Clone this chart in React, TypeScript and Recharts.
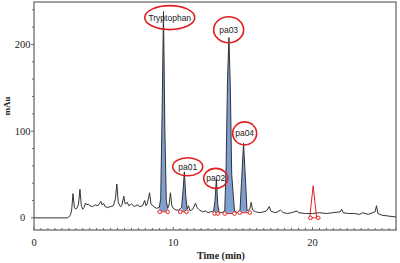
import React from 'react';
import {
  ComposedChart,
  Line,
  Area,
  XAxis,
  YAxis,
  Scatter,
  ReferenceLine,
  ReferenceDot,
  ReferenceArea,
} from 'recharts';

// chromatogram trace: [time (min), mAu]
const trace: [number, number][] = [
  [0, 0], [1, 0], [2, 0], [2.4, 0], [2.5, 1], [2.6, 3], [2.7, 8], [2.8, 28], [2.9, 12],
  [3.0, 10], [3.1, 12], [3.2, 16], [3.3, 33], [3.4, 14], [3.5, 10], [3.6, 12], [3.7, 17],
  [3.8, 15], [3.9, 16], [4.0, 14], [4.2, 13], [4.4, 15], [4.6, 14], [4.8, 19], [4.9, 15],
  [5.0, 17], [5.1, 13], [5.3, 12], [5.5, 13], [5.7, 14], [5.85, 22], [5.95, 39], [6.05, 18],
  [6.2, 13], [6.3, 14], [6.45, 25], [6.55, 16], [6.7, 18], [6.8, 14], [7.0, 16], [7.2, 13],
  [7.4, 15], [7.6, 13], [7.8, 14], [7.95, 20], [8.05, 14], [8.15, 17], [8.3, 29], [8.4, 16],
  [8.6, 13], [8.8, 11], [9.0, 12], [9.1, 22], [9.2, 120], [9.3, 238], [9.4, 100], [9.5, 20],
  [9.6, 11], [9.7, 15], [9.8, 29], [9.9, 14], [10.0, 11], [10.2, 9], [10.4, 9], [10.6, 12],
  [10.7, 30], [10.8, 53], [10.9, 25], [11.0, 10], [11.1, 14], [11.2, 8], [11.4, 10],
  [11.6, 17], [11.7, 12], [11.9, 9], [12.1, 7], [12.3, 8], [12.5, 6], [12.7, 7], [12.9, 8],
  [13.0, 20], [13.1, 45], [13.2, 15], [13.3, 6], [13.5, 6], [13.7, 8], [13.8, 60],
  [13.9, 160], [14.0, 208], [14.1, 150], [14.2, 50], [14.4, 8], [14.6, 6], [14.8, 9],
  [14.9, 40], [15.05, 86], [15.2, 40], [15.3, 8], [15.5, 10], [15.6, 18], [15.7, 9],
  [15.9, 7], [16.2, 6], [16.5, 7], [16.7, 8], [16.9, 13], [17.0, 8], [17.3, 6], [17.5, 7],
  [17.7, 9], [17.9, 6], [18.2, 5], [18.5, 6], [18.9, 8], [19.0, 6], [19.5, 5], [20.0, 5],
  [20.5, 6], [21.0, 5], [21.5, 6], [22.0, 7], [22.1, 10], [22.2, 6], [22.6, 5], [23.0, 5],
  [23.4, 4], [23.6, 6], [24.0, 4], [24.5, 7], [24.6, 14], [24.7, 5], [25.0, 3], [25.5, 2],
  [26, 1],
];

// integrated (blue) peaks
const peakNames = ['Tryptophan', 'pa01', 'pa02', 'pa03', 'pa04'];
const peakStart = [9.0, 10.6, 12.9, 13.7, 14.8];
const peakEnd = [9.6, 11.0, 13.3, 14.4, 15.3];
const peakBase = [8, 8, 6, 6, 7];
const markerStart = [9.03, 10.5, 12.97, 13.7, 14.77];
const markerEnd = [9.6, 10.95, 13.2, 14.4, 15.5];

// annotation ellipse centres (time, mAu)
const labelTime = [9.75, 11.04, 13.05, 13.98, 15.13];
const labelValue = [231, 59, 45.6, 217, 97.5];

// red reference peak
const redPeak: [number, number][] = [[19.8, 0], [20.05, 37], [20.3, 0]];
const redMarkers = [19.85, 20.42];

const yTicks = [0, 20, 40, 60, 80, 100, 120, 140, 160, 180, 200, 220, 240];
const yLabels = [0, 100, 200];
const xTicks = Array.from({ length: 53 }, (_, i) => i * 0.5);
const xLabels = [0, 10, 20];

const ellipseSize: Record<string, [number, number]> = {
  Tryptophan: [25, 12],
  pa01: [15, 9],
  pa02: [12, 10],
  pa03: [15, 13],
  pa04: [12, 11.5],
};

type Row = { t: number; v?: number; blue?: [number, number]; red?: number };

const rows: Row[] = [];
trace.forEach(([t, v]) => {
  const row: Row = { t, v };
  peakStart.forEach((s, i) => {
    if (t >= s && t <= peakEnd[i]) row.blue = [peakBase[i], v];
  });
  rows.push(row);
});
redPeak.forEach(([t, r]) => rows.push({ t, red: r }));
rows.sort((a, b) => a.t - b.t);

const markerData = [
  ...markerStart.map((t, i) => ({ t, m: peakBase[i] - 1 })),
  ...markerEnd.map((t, i) => ({ t, m: peakBase[i] - 1 })),
  ...redMarkers.map((t) => ({ t, m: 0 })),
];

const serif = '"Liberation Serif", "DejaVu Serif", serif';
const sans = '"Liberation Sans", Arial, sans-serif';

const YTick = (props: any) => {
  const { x, y, payload } = props;
  const major = yLabels.includes(payload.value);
  return (
    <g>
      <line x1={34} x2={34 - (major ? 3 : 2)} y1={y} y2={y} stroke="#666" strokeWidth={1} />
      {major && (
        <text x={22.5} y={y} dy={3.5} textAnchor="middle" fontFamily={serif} fontSize={10.5} fill="#222">
          {payload.value}
        </text>
      )}
    </g>
  );
};

const XTick = (props: any) => {
  const { x, payload } = props;
  const major = xLabels.includes(payload.value);
  const y0 = 230;
  return (
    <g>
      <line x1={x} x2={x} y1={y0} y2={y0 - (major ? 3 : 2)} stroke="#666" strokeWidth={1} />
      {major && (
        <text x={x} y={y0 + 16} textAnchor="middle" fontFamily={serif} fontSize={10.5} fill="#222">
          {payload.value}
        </text>
      )}
    </g>
  );
};

const Marker = (props: any) => {
  const { cx, cy } = props;
  return <circle cx={cx} cy={cy} r={1.8} fill="#fff" stroke="#e02020" strokeWidth={1} />;
};

export default function App() {
  return (
    <div style={{ position: 'absolute', left: 0, top: 0, width: 400, height: 263, background: '#fff' }}>
      <ComposedChart
        width={400}
        height={263}
        data={rows}
        margin={{ top: 2, right: 4, bottom: 0, left: 0 }}
      >
        <XAxis
          dataKey="t"
          type="number"
          domain={[0, 26]}
          ticks={xTicks}
          interval={0}
          axisLine={false}
          tickLine={false}
          tickSize={0}
          tickMargin={0}
          tick={<XTick />}
          height={33}
          allowDataOverflow
          label={{
            content: () => (
              <text x={221} y={259} textAnchor="middle" fontFamily={serif} fontWeight="bold" fontSize={10} fill="#222">
                Time (min)
              </text>
            ),
          }}
        />
        <YAxis
          type="number"
          domain={[-14, 249]}
          ticks={yTicks}
          interval={0}
          axisLine={false}
          tickLine={false}
          tickSize={0}
          tickMargin={0}
          tick={<YTick />}
          width={34}
          allowDataOverflow
          label={{
            content: () => (
              <text
                x={10}
                y={106}
                transform="rotate(-90 10 106)"
                textAnchor="middle"
                fontFamily={serif}
                fontWeight="bold"
                fontSize={9}
                fill="#222"
              >
                mAu
              </text>
            ),
          }}
        />
        <Area
          dataKey="blue"
          type="linear"
          stroke="none"
          fill="#7f9fd3"
          fillOpacity={1}
          isAnimationActive={false}
          connectNulls={false}
        />
        <Line
          dataKey="v"
          type="linear"
          stroke="#333"
          strokeWidth={1}
          dot={false}
          connectNulls
          isAnimationActive={false}
        />
        <Line
          dataKey="red"
          type="linear"
          stroke="#e02020"
          strokeWidth={1}
          dot={false}
          connectNulls
          isAnimationActive={false}
        />
        {markerStart.map((s, i) => (
          <ReferenceLine
            key={'seg' + i}
            segment={[
              { x: s, y: peakBase[i] - 1 },
              { x: markerEnd[i], y: peakBase[i] - 1 },
            ]}
            stroke="#e02020"
            strokeWidth={1}
          />
        ))}
        <ReferenceLine
          segment={[
            { x: redMarkers[0], y: 0 },
            { x: redMarkers[1], y: 0 },
          ]}
          stroke="#e02020"
          strokeWidth={1}
        />
        <Scatter data={markerData} dataKey="m" shape={<Marker />} isAnimationActive={false} />
        {peakNames.map((name, i) => (
          <ReferenceDot
            key={name}
            x={labelTime[i]}
            y={labelValue[i]}
            r={1}
            shape={(p: any) => {
              const [rx, ry] = ellipseSize[name];
              return (
                <g>
                  <ellipse cx={p.cx} cy={p.cy} rx={rx} ry={ry} fill="none" stroke="#e02020" strokeWidth={1.6} />
                  <text x={p.cx} y={p.cy} dy={3} textAnchor="middle" fontFamily={sans} fontSize={8.5} fill="#222">
                    {name}
                  </text>
                </g>
              );
            }}
          />
        ))}
        <ReferenceArea x1={0} x2={26} y1={-14} y2={249} fill="none" stroke="#808080" strokeWidth={1.5} />
      </ComposedChart>
    </div>
  );
}
